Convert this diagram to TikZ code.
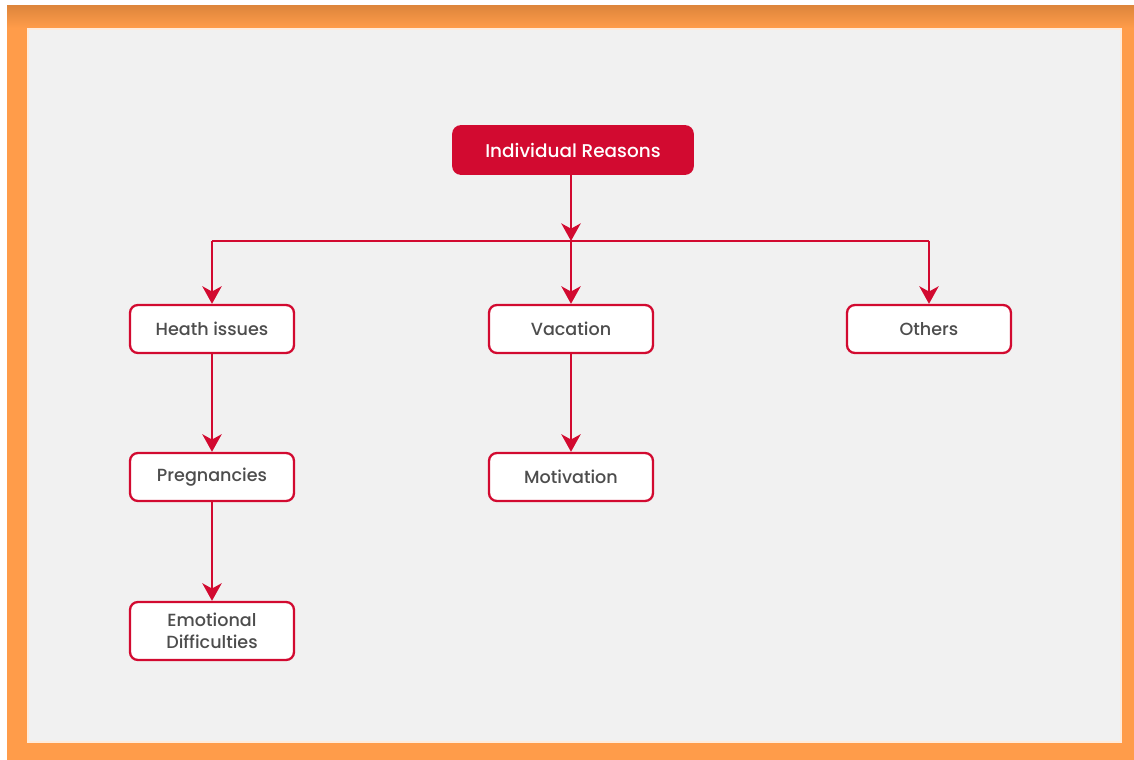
\documentclass[tikz,border=0pt]{standalone}
\usepackage{fontspec}
\setmainfont{Poppins}
\newfontfamily\boxfont{Poppins Medium}
\usetikzlibrary{arrows.meta}

\definecolor{reasonred}{HTML}{D20A30}
\definecolor{frameorange}{HTML}{FF9C4A}
\definecolor{framedark}{HTML}{DE863C}
\definecolor{panelgray}{HTML}{F1F1F1}
\definecolor{textgray}{HTML}{4D4D4D}

\tikzset{
  rootbox/.style={draw=reasonred, fill=reasonred, rounded corners=4.5pt, line width=1pt,
    minimum width=4.8cm, minimum height=0.96cm, text=white, font=\boxfont\fontsize{10.5}{12}\selectfont},
  itembox/.style={draw=reasonred, fill=white, rounded corners=4.5pt, line width=1.3pt,
    minimum width=3.28cm, minimum height=0.96cm, text=textgray, align=center,
    font=\boxfont\fontsize{10}{12.5}\selectfont},
  link/.style={draw=reasonred, line width=1.5pt},
  arr/.style={link, -{Stealth[length=10pt,width=11pt,inset=3pt]}}
}

\begin{document}
\begin{tikzpicture}[x=0.02cm, y=-0.02cm]
    % frame
    \useasboundingbox (0,0) rectangle (1134,760);
    \fill[frameorange] (7,6) rectangle (1134,760);
    \shade[top color=framedark, bottom color=frameorange] (7,6) rectangle (1134,28);
    \draw[fill=panelgray, draw=white!80!frameorange, line width=0.6pt] (28,29) rectangle (1121,742);

    \node[rootbox] (root) at (573,150) {Individual Reasons};

    \node[itembox] (heath) at (212,329) {Heath issues};
    \node[itembox] (vacation) at (571,329) {Vacation};
    \node[itembox] (others) at (929,329) {Others};

    \node[itembox] (preg) at (212,477) {Pregnancies};
    \node[itembox] (motiv) at (571,477) {Motivation};

    \node[itembox, minimum height=1.16cm] (emo) at (212,631) {Emotional\\Difficulties};

    \coordinate (busL) at (212,241);
    \coordinate (busM) at (571,241);
    \coordinate (busR) at (929,241);

    \draw[link] (busL) -- (busR);
    \draw[arr] (root.south -| busM) -- (busM);
    \draw[arr] (busL) -- (heath);
    \draw[arr] (busM) -- (vacation);
    \draw[arr] (busR) -- (others);
    \draw[arr] (heath) -- (preg);
    \draw[arr] (preg) -- (emo);
    \draw[arr] (vacation) -- (motiv);
\end{tikzpicture}
\end{document}
